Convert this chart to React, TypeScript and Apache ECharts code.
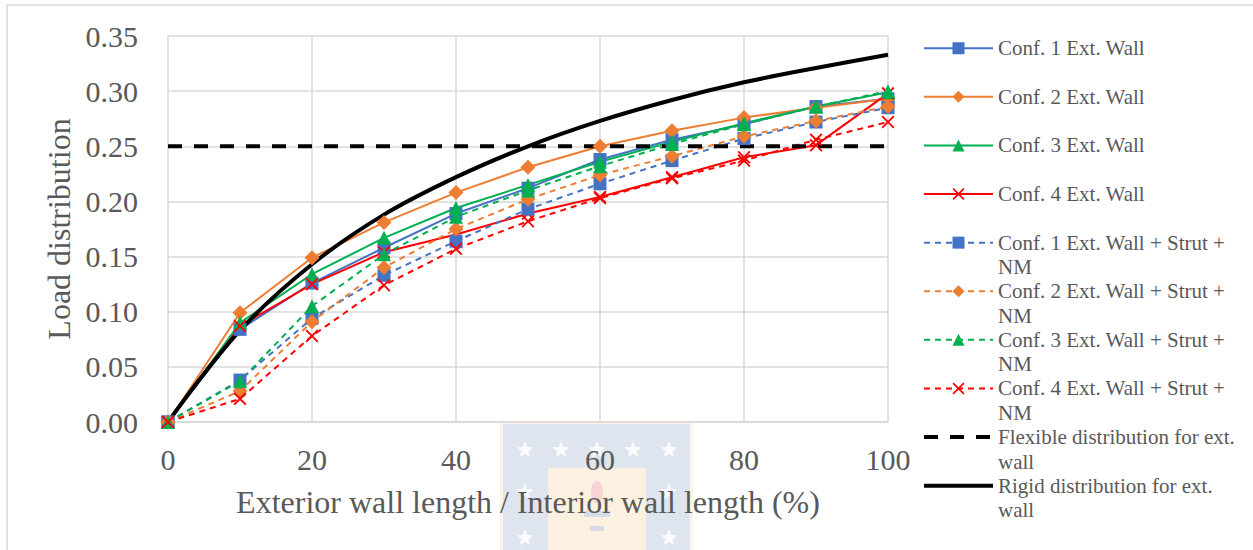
import { useEffect, useRef } from "react";
import * as echarts from "echarts";

// Ratio of exterior to interior wall length (%)
const ratios = [0, 10, 20, 30, 40, 50, 60, 70, 80, 90, 100];

// Load distribution per configuration (exterior wall only)
const conf1Wall = [0, 0.084, 0.126, 0.158, 0.189, 0.212, 0.238, 0.256, 0.27, 0.286, 0.293];
const conf2Wall = [0, 0.099, 0.149, 0.181, 0.208, 0.231, 0.25, 0.264, 0.276, 0.285, 0.293];
const conf3Wall = [0, 0.09, 0.134, 0.167, 0.194, 0.215, 0.236, 0.254, 0.271, 0.286, 0.299];
const conf4Wall = [0, 0.087, 0.125, 0.154, 0.17, 0.189, 0.204, 0.222, 0.24, 0.251, 0.298];

// Load distribution per configuration (exterior wall + strut + NM)
const conf1Strut = [0, 0.038, 0.094, 0.133, 0.164, 0.193, 0.216, 0.237, 0.257, 0.272, 0.285];
const conf2Strut = [0, 0.028, 0.091, 0.14, 0.175, 0.202, 0.224, 0.241, 0.259, 0.273, 0.286];
const conf3Strut = [0, 0.037, 0.105, 0.152, 0.186, 0.21, 0.232, 0.252, 0.27, 0.286, 0.3];
const conf4Strut = [0, 0.021, 0.078, 0.124, 0.157, 0.182, 0.203, 0.221, 0.237, 0.256, 0.272];

// Reference distributions for the exterior wall
const flexibleDist = [0.25, 0.25, 0.25, 0.25, 0.25, 0.25, 0.25, 0.25, 0.25, 0.25, 0.25];
const rigidDist = [0, 0.083, 0.143, 0.188, 0.222, 0.25, 0.273, 0.292, 0.308, 0.321, 0.333];

const names = [
  "Conf. 1 Ext. Wall",
  "Conf. 2 Ext. Wall",
  "Conf. 3 Ext. Wall",
  "Conf. 4 Ext. Wall",
  "Conf. 1 Ext. Wall + Strut + NM",
  "Conf. 2 Ext. Wall + Strut + NM",
  "Conf. 3 Ext. Wall + Strut + NM",
  "Conf. 4 Ext. Wall + Strut + NM",
  "Flexible distribution for ext. wall",
  "Rigid distribution for ext. wall",
];

// Legend wording, wrapped; the leading blank line keeps the first line beside the icon
const legendText: Record<string, string> = {
  "Conf. 1 Ext. Wall": "\nConf. 1 Ext. Wall\n",
  "Conf. 2 Ext. Wall": "\nConf. 2 Ext. Wall\n",
  "Conf. 3 Ext. Wall": "\nConf. 3 Ext. Wall\n",
  "Conf. 4 Ext. Wall": "\nConf. 4 Ext. Wall\n",
  "Conf. 1 Ext. Wall + Strut + NM": "\nConf. 1 Ext. Wall + Strut +\nNM",
  "Conf. 2 Ext. Wall + Strut + NM": "\nConf. 2 Ext. Wall + Strut +\nNM",
  "Conf. 3 Ext. Wall + Strut + NM": "\nConf. 3 Ext. Wall + Strut +\nNM",
  "Conf. 4 Ext. Wall + Strut + NM": "\nConf. 4 Ext. Wall + Strut +\nNM",
  "Flexible distribution for ext. wall": "\nFlexible distribution for ext.\nwall",
  "Rigid distribution for ext. wall": "\nRigid distribution for ext.\nwall",
};

const SERIF = "Liberation Serif";
const TEXT_GREY = "#595959";
const GRID_GREY = "#D9D9D9";
const BLUE = "#4472C4";
const ORANGE = "#ED7D31";
const GREEN = "#00B050";
const RED = "#FF0000";

// filled cross marker
const CROSS = "path://M0,1L1,0L5,4L9,0L10,1L6,5L10,9L9,10L5,6L1,10L0,9L4,5Z";

function pairs(values: number[]) {
  return ratios.map((x, i) => [x, values[i]]);
}

function configSeries(
  name: string,
  values: number[],
  color: string,
  symbol: string,
  symbolSize: number,
  dashed: boolean
) {
  return {
    name,
    type: "line",
    data: pairs(values),
    symbol,
    symbolSize,
    showSymbol: true,
    lineStyle: { color, width: 2, type: dashed ? [6, 5] : "solid" },
    itemStyle: { color, borderColor: color, borderWidth: 0 },
    emphasis: { disabled: true },
  };
}

function starPoints(cx: number, cy: number, r: number) {
  const pts: number[][] = [];
  for (let i = 0; i < 10; i++) {
    const a = -Math.PI / 2 + (i * Math.PI) / 5;
    const rr = i % 2 === 0 ? r : r * 0.42;
    pts.push([cx + rr * Math.cos(a), cy + rr * Math.sin(a)]);
  }
  return pts;
}

// faint university crest behind the lower axis area
function crest() {
  const stars = [
    [525, 450], [561, 450], [597, 450], [633, 450], [669, 450],
    [525, 492], [669, 492], [525, 538], [669, 538],
  ].map(([x, y]) => ({
    type: "polygon",
    shape: { points: starPoints(x, y, 9) },
    style: { fill: "#FFFFFF", opacity: 0.85 },
    silent: true,
  }));
  return {
    type: "group",
    z: -10,
    silent: true,
    children: [
      { type: "rect", shape: { x: 500, y: 421, width: 193, height: 140 }, style: { fill: "#FDF3E6" } },
      { type: "rect", shape: { x: 503, y: 424, width: 187, height: 140 }, style: { fill: "#DFE5EE" } },
      { type: "rect", shape: { x: 548, y: 468, width: 98, height: 100 }, style: { fill: "#FCF1E0" } },
      { type: "ellipse", shape: { cx: 597, cy: 492, rx: 6, ry: 11 }, style: { fill: "#F7D3D6" } },
      { type: "rect", shape: { x: 584, y: 511, width: 26, height: 6 }, style: { fill: "#D5DCE7" } },
      { type: "rect", shape: { x: 590, y: 526, width: 14, height: 5 }, style: { fill: "#D5DCE7" } },
      ...stars,
    ],
  };
}

export default function App() {
  const ref = useRef<HTMLDivElement>(null);

  useEffect(() => {
    document.body.style.margin = "0";
    if (!ref.current) return;
    const chart = echarts.init(ref.current, undefined, { renderer: "svg" });

    const series: any[] = [
      configSeries(names[0], conf1Wall, BLUE, "rect", 13, false),
      configSeries(names[1], conf2Wall, ORANGE, "diamond", 15, false),
      configSeries(names[2], conf3Wall, GREEN, "triangle", 14, false),
      configSeries(names[3], conf4Wall, RED, CROSS, 13, false),
      configSeries(names[4], conf1Strut, BLUE, "rect", 13, true),
      configSeries(names[5], conf2Strut, ORANGE, "diamond", 15, true),
      configSeries(names[6], conf3Strut, GREEN, "triangle", 14, true),
      configSeries(names[7], conf4Strut, RED, CROSS, 13, true),
      {
        name: names[8],
        type: "line",
        data: pairs(flexibleDist),
        symbol: "none",
        lineStyle: { color: "#000000", width: 4, type: [14, 12] },
        itemStyle: { color: "#000000" },
        emphasis: { disabled: true },
      },
      {
        name: names[9],
        type: "line",
        data: pairs(rigidDist),
        symbol: "none",
        smooth: 0.35,
        lineStyle: { color: "#000000", width: 4 },
        itemStyle: { color: "#000000" },
        emphasis: { disabled: true },
      },
    ];

    // the two reference lines have no marker in the legend
    const legendData = names.map((name, i) =>
      i >= 8 ? { name, itemStyle: { opacity: 0 } } : { name }
    );

    chart.setOption({
      animation: false,
      backgroundColor: "#FFFFFF",
      textStyle: { fontFamily: SERIF },
      grid: { left: 168, right: 365, top: 36, bottom: 128, containLabel: false },
      xAxis: {
        type: "value",
        min: 0,
        max: 100,
        interval: 20,
        name: "Exterior wall length / Interior wall length (%)",
        nameLocation: "middle",
        nameGap: 64,
        nameTextStyle: { fontFamily: SERIF, fontSize: 32, color: TEXT_GREY },
        axisLine: { show: true, lineStyle: { color: GRID_GREY, width: 1.5 } },
        axisTick: { show: false },
        axisLabel: { fontFamily: SERIF, fontSize: 30, color: TEXT_GREY, margin: 22 },
        splitLine: { show: true, lineStyle: { color: GRID_GREY, width: 1.5 } },
      },
      yAxis: {
        type: "value",
        min: 0,
        max: 0.35,
        interval: 0.05,
        name: "Load distribution",
        nameLocation: "middle",
        nameGap: 93,
        nameTextStyle: { fontFamily: SERIF, fontSize: 32, color: TEXT_GREY },
        axisLine: { show: false },
        axisTick: { show: false },
        axisLabel: {
          fontFamily: SERIF,
          fontSize: 30,
          color: TEXT_GREY,
          margin: 30,
          formatter: (v: number) => v.toFixed(2),
        },
        splitLine: { show: true, lineStyle: { color: GRID_GREY, width: 1.5 } },
      },
      legend: {
        data: legendData,
        orient: "vertical",
        left: 922,
        top: 11.5,
        padding: 0,
        itemGap: -24.9,
        itemWidth: 69,
        itemHeight: 15,
        selectedMode: false,
        lineStyle: { width: "inherit" },
        formatter: (name: string) => legendText[name] ?? name,
        textStyle: {
          fontFamily: SERIF,
          fontSize: 21,
          color: TEXT_GREY,
          lineHeight: 24.5,
        },
      },
      graphic: [
        crest(),
        {
          type: "rect",
          silent: true,
          z: -20,
          shape: { x: 7, y: 5, width: 1260, height: 560 },
          style: { fill: "none", stroke: GRID_GREY, lineWidth: 1.5 },
        },
      ],
      series,
    });

    return () => chart.dispose();
  }, []);

  return <div ref={ref} style={{ width: 1253, height: 550 }} />;
}
